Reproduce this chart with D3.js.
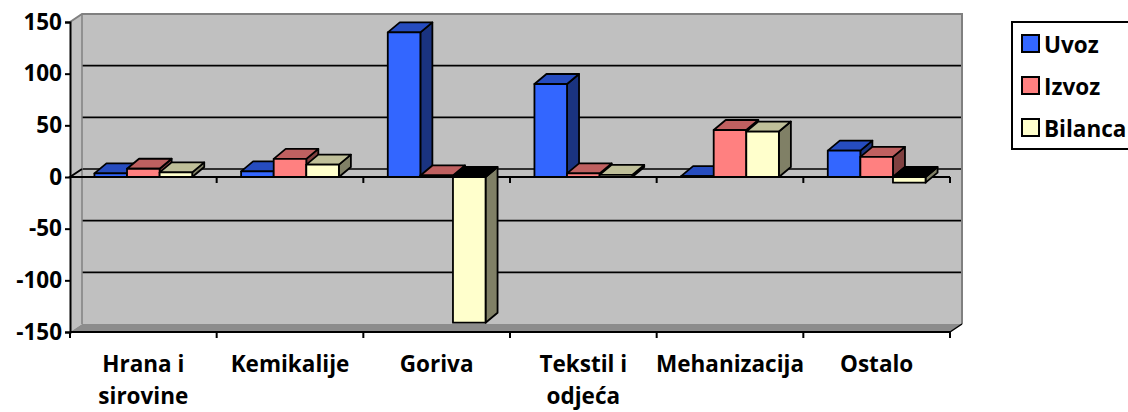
<!DOCTYPE html>
<html>
<head>
<meta charset="utf-8">
<script src="https://cdn.jsdelivr.net/npm/d3@7"></script>
<style>
  body { margin: 0; background: #fff; }
  svg text { font-family: "Open Sans", Lato, sans-serif; font-weight: 700; fill: #000; }
</style>
</head>
<body>
<svg id="chart"></svg>
<script>
// data
var categories = [["Hrana i", "sirovine"], ["Kemikalije"], ["Goriva"], ["Tekstil i", "odjeća"], ["Mehanizacija"], ["Ostalo"]];
var series = ["Uvoz", "Izvoz", "Bilanca"];
var uvoz = [3.5, 5.5, 140, 90, 0.8, 25.5];
var izvoz = [8, 17.5, 1.5, 3.5, 45.5, 19.5];
var bilanca = [4.5, 12, -141, 2, 44, -5.5];
var yTicks = [-150, -100, -50, 0, 50, 100, 150];

// face colours: front, top, side
var colors = {
  Uvoz: ["#3366ff", "#264cbf", "#1a3380"],
  Izvoz: ["#ff8080", "#bf6060", "#804040"],
  Bilanca: ["#ffffcc", "#bfbf99", "#808066"]
};

const width = 1128;
const height = 412;
const plot = {left: 70, right: 950, top: 22, bottom: 332};
const wallDx = 12, wallDy = -8;   // back wall offset
const barDx = 12, barDy = -10;    // bar depth
const fontSize = 22.5;

var svg = d3.select("#chart").attr("width", width).attr("height", height);

var y = d3.scaleLinear().domain([-150, 150]).range([plot.bottom, plot.top]);

var catIdx = d3.range(categories.length);
var x = d3.scaleBand().domain(catIdx).range([plot.left, plot.right]).padding(0);
var xs = d3.scaleBand().domain(series).range([0, x.bandwidth()]).paddingInner(0).paddingOuter(0.75);

var values = {Uvoz: uvoz, Izvoz: izvoz, Bilanca: bilanca};

var pts = p => p.map(d => d.join(",")).join(" ");

// side wall, back wall and floor
svg.append("polygon")
  .attr("points", pts([[plot.left, plot.top], [plot.left + wallDx, plot.top + wallDy],
                       [plot.left + wallDx, plot.bottom + wallDy], [plot.left, plot.bottom]]))
  .attr("fill", "#c0c0c0");

svg.append("rect")
  .attr("x", plot.left + wallDx)
  .attr("y", plot.top + wallDy)
  .attr("width", plot.right - plot.left)
  .attr("height", plot.bottom - plot.top)
  .attr("fill", "#c0c0c0");

svg.append("polygon")
  .attr("points", pts([[plot.left, plot.bottom], [plot.left + wallDx, plot.bottom + wallDy],
                       [plot.right + wallDx, plot.bottom + wallDy], [plot.right, plot.bottom]]))
  .attr("fill", "#8c8c8c");

// gridlines on the back wall
svg.append("g")
  .selectAll("line")
  .data(yTicks.filter(d => d > -150 && d < 150))
  .join("line")
  .attr("x1", plot.left + wallDx)
  .attr("x2", plot.right + wallDx)
  .attr("y1", d => y(d) + wallDy)
  .attr("y2", d => y(d) + wallDy)
  .attr("stroke", "#000")
  .attr("stroke-width", 1.6);

// wall edges
svg.append("path")
  .attr("d", `M${plot.left},${plot.top}L${plot.left + wallDx},${plot.top + wallDy}H${plot.right + wallDx}V${plot.bottom + wallDy}`)
  .attr("fill", "none")
  .attr("stroke", "#808080")
  .attr("stroke-width", 2);
svg.append("line")
  .attr("x1", plot.left + wallDx).attr("x2", plot.left + wallDx)
  .attr("y1", plot.top + wallDy).attr("y2", plot.bottom + wallDy)
  .attr("stroke", "#808080")
  .attr("stroke-width", 1.5);
svg.append("line")
  .attr("x1", plot.right).attr("x2", plot.right + wallDx)
  .attr("y1", plot.bottom).attr("y2", plot.bottom + wallDy)
  .attr("stroke", "#000")
  .attr("stroke-width", 1.5);

// category axis at zero (front plane)
var zeroAxis = svg.append("g");
zeroAxis.append("path")
  .attr("d", `M${plot.left + wallDx},${y(0) + wallDy}L${plot.left},${y(0)}H${plot.right}`)
  .attr("fill", "none")
  .attr("stroke", "#000")
  .attr("stroke-width", 2);
zeroAxis.selectAll("line")
  .data(catIdx.map(i => x(i)).concat([plot.right]).slice(1))
  .join("line")
  .attr("x1", d => d).attr("x2", d => d)
  .attr("y1", y(0)).attr("y2", y(0) + 6)
  .attr("stroke", "#000")
  .attr("stroke-width", 2);

// bars, drawn left to right so later fronts hide earlier sides
var bars = [];
catIdx.forEach(i => series.forEach(s => bars.push({i: i, s: s, v: values[s][i]})));

var barG = svg.append("g")
  .selectAll("g")
  .data(bars)
  .join("g")
  .attr("stroke", "#000")
  .attr("stroke-width", 1.8)
  .attr("stroke-linejoin", "round");

barG.each(function(d) {
  var g = d3.select(this);
  var x0 = x(d.i) + xs(d.s), x1 = x0 + xs.bandwidth();
  var y0 = y(0), yv = y(d.v);
  var top = Math.min(y0, yv), bot = Math.max(y0, yv);
  var c = colors[d.s];
  // side
  g.append("polygon")
    .attr("points", pts([[x1, top], [x1 + barDx, top + barDy], [x1 + barDx, bot + barDy], [x1, bot]]))
    .attr("fill", c[2]);
  // top (bottom face shows dark for negatives)
  g.append("polygon")
    .attr("points", pts([[x0, top], [x0 + barDx, top + barDy], [x1 + barDx, top + barDy], [x1, top]]))
    .attr("fill", d.v < 0 ? "#000" : c[1]);
  // front
  g.append("rect")
    .attr("x", x0).attr("y", top)
    .attr("width", x1 - x0).attr("height", Math.max(bot - top, 0.5))
    .attr("fill", c[0]);
});

// value axis
svg.append("g")
  .attr("transform", `translate(${plot.left},0)`)
  .call(d3.axisLeft(y).tickValues(yTicks).tickSize(5).tickPadding(3).tickFormat(d => String(d)))
  .call(g => g.select(".domain").attr("stroke-width", 2))
  .call(g => g.selectAll(".tick line").attr("stroke-width", 2))
  .call(g => g.selectAll("text").attr("font-size", fontSize).attr("font-family", null));

// bottom edge with category ticks
svg.append("line")
  .attr("x1", plot.left).attr("x2", plot.right)
  .attr("y1", plot.bottom).attr("y2", plot.bottom)
  .attr("stroke", "#000")
  .attr("stroke-width", 2);
svg.append("g")
  .selectAll("line")
  .data(catIdx.map(i => x(i)).concat([plot.right]))
  .join("line")
  .attr("x1", d => d).attr("x2", d => d)
  .attr("y1", plot.bottom).attr("y2", plot.bottom + 6)
  .attr("stroke", "#000")
  .attr("stroke-width", 2);

// category labels
svg.append("g")
  .selectAll("text")
  .data(catIdx)
  .join("text")
  .attr("text-anchor", "middle")
  .attr("font-size", fontSize)
  .attr("x", i => x(i) + x.bandwidth() / 2)
  .attr("y", 372)
  .selectAll("tspan")
  .data(i => categories[i].map((t, k) => ({t: t, k: k, cx: x(i) + x.bandwidth() / 2})))
  .join("tspan")
  .attr("x", d => d.cx)
  .attr("dy", d => d.k ? 32 : 0)
  .text(d => d.t);

// legend
var legend = svg.append("g").attr("transform", "translate(1012,22)");
legend.append("rect")
  .attr("width", 140).attr("height", 127)
  .attr("fill", "#fff")
  .attr("stroke", "#000")
  .attr("stroke-width", 2);
var item = legend.selectAll("g.item")
  .data(series)
  .join("g")
  .attr("class", "item")
  .attr("transform", (d, k) => `translate(10,${13 + k * 42})`);
item.append("rect")
  .attr("width", 17).attr("height", 17)
  .attr("fill", d => colors[d][0])
  .attr("stroke", "#000")
  .attr("stroke-width", 2);
item.append("text")
  .attr("x", 22).attr("y", 17.5)
  .attr("font-size", fontSize)
  .text(d => d);
</script>
</body>
</html>
